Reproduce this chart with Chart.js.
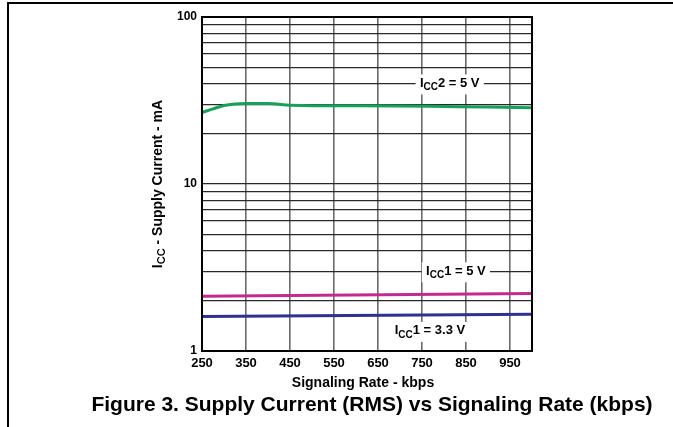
<!DOCTYPE html>
<html>
<head>
<meta charset="utf-8">
<script src="https://cdn.jsdelivr.net/npm/chart.js@4/dist/chart.umd.min.js"></script>
<style>
    html, body { margin: 0; padding: 0; background: #fff; }
    #wrap { width: 673px; height: 427px; position: relative; }
</style>
</head>
<body>
<div id="wrap"><canvas id="chart" width="673" height="427"></canvas></div>
<script>
// Datos
const rates = [250, 275, 300, 325, 350, 400, 450, 500, 600, 700, 800, 900, 1000];
const icc2_5v = [26.8, 28.2, 29.5, 30.1, 30.3, 30.3, 29.6, 29.4, 29.4, 29.3, 29.1, 28.9, 28.6];
const ratesFlat = [250, 1000];
const icc1_5v = [2.13, 2.21];
const icc1_33v = [1.61, 1.66];

const xTickLabels = [250, 350, 450, 550, 650, 750, 850, 950];
const yGridValues = [1, 2, 3, 4, 5, 6, 7, 8, 9, 10, 20, 30, 40, 50, 60, 70, 80, 90, 100];
const yTickLabels = [1, 10, 100];

// Etiquetas de las curvas (posicion en unidades de datos)
const curveLabels = [
    { main: 'I', sub: 'CC', rest: '2 = 5 V', x: 813, y: 40 },
    { main: 'I', sub: 'CC', rest: '1 = 5 V', x: 827, y: 3 },
    { main: 'I', sub: 'CC', rest: '1 = 3.3 V', x: 768, y: 1.32 }
];

const FONT = 'Arial, "Liberation Sans", Helvetica, sans-serif';

function toPoints(xs, ys) {
    return xs.map((x, i) => ({ x: x, y: ys[i] }));
}

// Dibuja "I" + subindice + resto, centrado en cx
function drawSubText(ctx, parts, cx, cy, size) {
    const mainFont = 'bold ' + size + 'px ' + FONT;
    const subFont = 'bold ' + Math.round(size * 0.8) + 'px ' + FONT;
    ctx.font = mainFont;
    const w1 = ctx.measureText(parts.main).width;
    const w3 = ctx.measureText(parts.rest).width;
    ctx.font = subFont;
    const w2 = ctx.measureText(parts.sub).width;
    const total = w1 + w2 + w3;
    let x = cx - total / 2;
    ctx.textBaseline = 'middle';
    ctx.textAlign = 'left';
    ctx.font = mainFont;
    ctx.fillText(parts.main, x, cy);
    x += w1;
    ctx.font = subFont;
    ctx.fillText(parts.sub, x, cy + size * 0.3);
    x += w2;
    ctx.font = mainFont;
    ctx.fillText(parts.rest, x, cy);
    return total;
}

const decorPlugin = {
    id: 'decor',
    afterDatasetsDraw(chart) {
        const ctx = chart.ctx;
        const area = chart.chartArea;
        const xs = chart.scales.x;
        const ys = chart.scales.y;
        ctx.save();

        // marco del grafico
        ctx.strokeStyle = '#000';
        ctx.lineWidth = 2;
        ctx.strokeRect(area.left, area.top, area.right - area.left, area.bottom - area.top);

        // etiquetas de las curvas con fondo blanco
        curveLabels.forEach(lbl => {
            const cx = xs.getPixelForValue(lbl.x);
            const cy = ys.getPixelForValue(lbl.y);
            ctx.font = 'bold 13px ' + FONT;
            const w = ctx.measureText(lbl.main + lbl.rest).width + 9;
            ctx.fillStyle = '#fff';
            ctx.fillRect(cx - w / 2 - 7, cy - 9, w + 14, 20);
            ctx.fillStyle = '#000';
            drawSubText(ctx, lbl, cx, cy, 13);
        });
        ctx.restore();
    },
    afterDraw(chart) {
        const ctx = chart.ctx;
        const area = chart.chartArea;
        ctx.save();

        // borde de la pagina
        ctx.strokeStyle = '#000';
        ctx.lineWidth = 2;
        ctx.beginPath();
        ctx.moveTo(673, 3);
        ctx.lineTo(8, 3);
        ctx.lineTo(8, 427);
        ctx.stroke();

        ctx.fillStyle = '#000';

        // titulo eje x
        ctx.font = 'bold 14px ' + FONT;
        ctx.textAlign = 'center';
        ctx.textBaseline = 'middle';
        ctx.fillText('Signaling Rate - kbps', (area.left + area.right) / 2 - 4, 383);

        // titulo eje y (rotado)
        ctx.save();
        ctx.translate(158, (area.top + area.bottom) / 2);
        ctx.rotate(-Math.PI / 2);
        drawSubText(ctx, { main: 'I', sub: 'CC', rest: ' - Supply Current - mA' }, 0, 0, 14);
        ctx.restore();

        // pie de figura
        ctx.font = 'bold 21px ' + FONT;
        ctx.textAlign = 'center';
        ctx.textBaseline = 'middle';
        ctx.fillText('Figure 3. Supply Current (RMS) vs Signaling Rate (kbps)', 372, 405);
        ctx.restore();
    }
};

const ctx = document.getElementById('chart');
new Chart(ctx, {
    type: 'line',
    data: {
        datasets: [
            {
                label: 'ICC2 = 5 V',
                data: toPoints(rates, icc2_5v),
                borderColor: '#17a05a',
                borderWidth: 3,
                pointRadius: 0,
                cubicInterpolationMode: 'monotone'
            },
            {
                label: 'ICC1 = 5 V',
                data: toPoints(ratesFlat, icc1_5v),
                borderColor: '#c42a8e',
                borderWidth: 3,
                pointRadius: 0
            },
            {
                label: 'ICC1 = 3.3 V',
                data: toPoints(ratesFlat, icc1_33v),
                borderColor: '#2e3192',
                borderWidth: 3,
                pointRadius: 0
            }
        ]
    },
    options: {
        responsive: false,
        animation: false,
        devicePixelRatio: 1,
        layout: {
            padding: { left: 162, top: 17, right: 141, bottom: 56 }
        },
        plugins: {
            legend: { display: false },
            tooltip: { enabled: false }
        },
        scales: {
            x: {
                type: 'linear',
                min: 250,
                max: 1000,
                afterBuildTicks(scale) {
                    scale.ticks = xTickLabels.map(v => ({ value: v }));
                },
                afterFit(scale) { scale.height = 20; },
                grid: { color: '#6a6a6a', lineWidth: 1.6, drawTicks: false },
                border: { display: false },
                ticks: {
                    autoSkip: false,
                    maxRotation: 0,
                    padding: 5,
                    color: '#000',
                    font: { family: FONT, size: 13, weight: 'bold' },
                    callback: v => String(v)
                }
            },
            y: {
                type: 'logarithmic',
                min: 1,
                max: 100,
                afterBuildTicks(scale) {
                    scale.ticks = yGridValues.map(v => ({ value: v }));
                },
                afterFit(scale) { scale.width = 40; },
                grid: { color: '#2a2a2a', lineWidth: 1.2, drawTicks: false },
                border: { display: false },
                ticks: {
                    autoSkip: false,
                    padding: 5,
                    color: '#000',
                    font: { family: FONT, size: 12, weight: 'bold' },
                    callback: v => yTickLabels.includes(v) ? String(v) : ''
                }
            }
        }
    },
    plugins: [decorPlugin]
});
</script>
</body>
</html>
